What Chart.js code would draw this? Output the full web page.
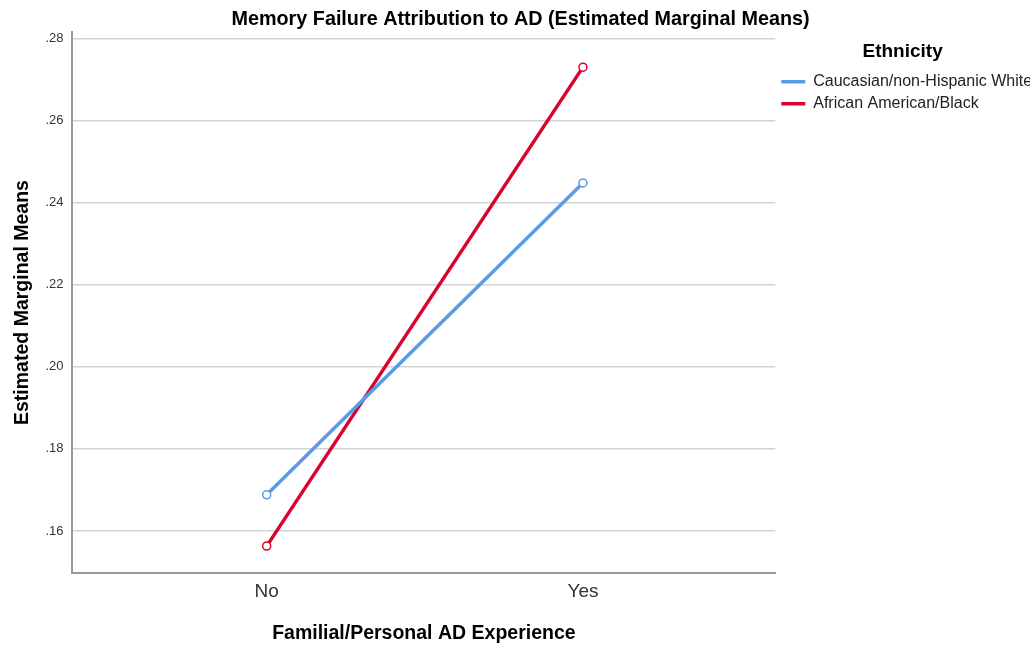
<!DOCTYPE html>
<html>
<head>
<meta charset="utf-8">
<script src="https://cdn.jsdelivr.net/npm/chart.js@4"></script>
<style>
  body { margin: 0; background: #fff; }
  #wrap { width: 1030px; height: 645px; }
</style>
</head>
<body>
<div id="wrap"><canvas id="chart"></canvas></div>
<script>
// data
const categories = ["No", "Yes"];
const seriesNames = ["Caucasian/non-Hispanic White", "African American/Black"];
const whiteMeans = [0.1688, 0.2448];
const blackMeans = [0.1563, 0.2730];
const yTicks = [0.16, 0.18, 0.20, 0.22, 0.24, 0.26, 0.28];
const colors = ["#5b9be6", "#d8032f"];

const font = "'Liberation Sans', Arial, sans-serif";

function toPoints(vals) {
  return vals.map((v, i) => ({ x: i, y: v }));
}

const datasets = [whiteMeans, blackMeans].map((vals, k) => ({
  label: seriesNames[k],
  data: toPoints(vals),
  borderColor: colors[k],
  backgroundColor: colors[k],
  borderWidth: 3.5,
  pointRadius: 4,
  pointBorderWidth: 1.5,
  pointBackgroundColor: "#fff",
  pointBorderColor: colors[k],
  tension: 0
}));

new Chart(document.getElementById("chart"), {
  type: "line",
  data: { datasets },
  options: {
    responsive: true,
    maintainAspectRatio: false,
    animation: false,
    layout: { padding: { left: 11, right: 0, top: 0, bottom: 0 } },
    plugins: {
      title: {
        display: true,
        text: "Memory Failure Attribution to AD (Estimated Marginal Means)",
        color: "#000",
        font: { family: font, size: 19.8, weight: "bold" },
        padding: { top: 8, bottom: 0.5 }
      },
      legend: {
        position: "right",
        align: "start",
        title: {
          display: true,
          text: "Ethnicity",
          color: "#000",
          font: { family: font, size: 19, weight: "bold" },
          padding: { top: 42, bottom: 3 }
        },
        labels: {
          usePointStyle: true,
          pointStyle: "line",
          pointStyleWidth: 24,
          boxHeight: 14,
          padding: 6,
          color: "#222",
          font: { family: font, size: 16 },
          // legend keys take the line width, not the marker width
          generateLabels: (chart) => {
            const items = Chart.defaults.plugins.legend.labels.generateLabels(chart);
            items.forEach((it) => { it.lineWidth = 3.5; });
            return items;
          }
        }
      },
      tooltip: { enabled: false }
    },
    scales: {
      x: {
        type: "linear",
        min: -0.614,
        max: 1.608,
        afterBuildTicks: (scale) => { scale.ticks = categories.map((c, i) => ({ value: i })); },
        ticks: {
          callback: (v) => categories[v],
          color: "#333",
          font: { family: font, size: 19 },
          padding: 8
        },
        grid: { display: false, drawTicks: false },
        border: { display: true, color: "#9a9a9a", width: 2 },
        title: {
          display: true,
          text: "Familial/Personal AD Experience",
          color: "#000",
          font: { family: font, size: 19.5, weight: "bold" },
          padding: { top: 10, bottom: 0 }
        }
      },
      y: {
        min: 0.1498,
        max: 0.2815,
        afterBuildTicks: (scale) => { scale.ticks = yTicks.map((v) => ({ value: v })); },
        ticks: {
          callback: (v) => v.toFixed(2).replace(/^0/, ""),
          color: "#333",
          font: { family: font, size: 13 },
          padding: 9
        },
        grid: { color: "#d3d3d3", lineWidth: 1.5, drawTicks: false },
        border: { display: true, color: "#9a9a9a", width: 2 },
        title: {
          display: true,
          text: "Estimated Marginal Means",
          color: "#000",
          font: { family: font, size: 19.5, weight: "bold" },
          padding: { top: 0, bottom: 2 }
        }
      }
    }
  }
});
</script>
</body>
</html>
